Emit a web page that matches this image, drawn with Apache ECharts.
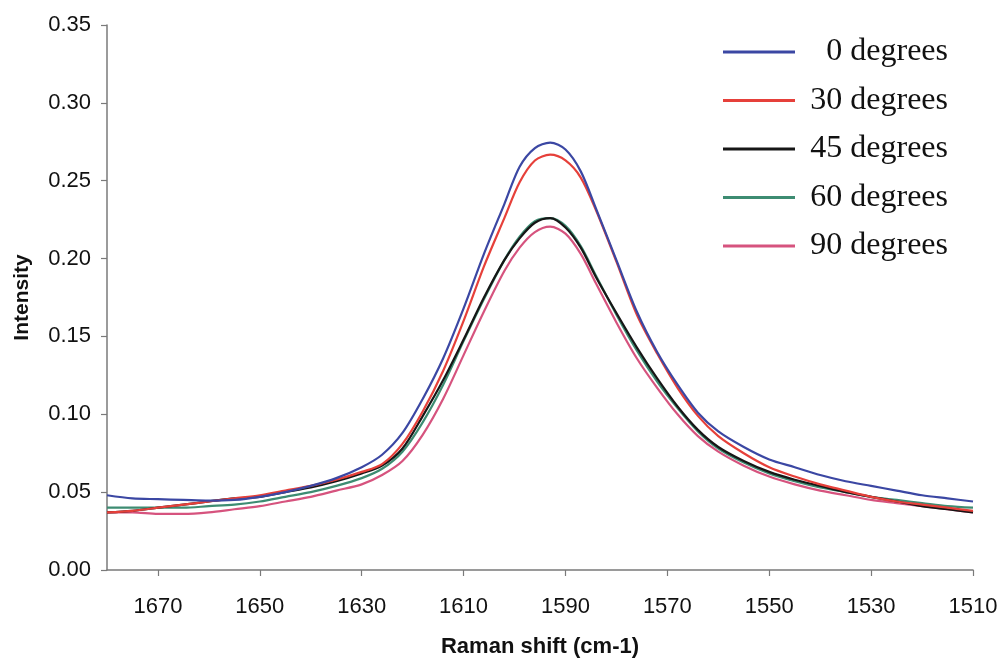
<!DOCTYPE html>
<html>
<head>
<meta charset="utf-8">
<script src="https://cdn.jsdelivr.net/npm/echarts@6/dist/echarts.min.js"></script>
<style>html,body{margin:0;padding:0;background:#fff}#c{width:1004px;height:663px}</style>
</head>
<body>
<div id="c"></div>
<script>
const ramanShift = [1680,1675,1670,1665,1660,1655,1650,1645,1640,1635,1630,1626,1622,1618,1614,1610,1606,1602,1599,1596,1593,1590,1587,1584,1580,1576,1572,1568,1564,1560,1555,1550,1545,1540,1535,1530,1525,1520,1515,1510];
const deg0  = [0.048,0.046,0.0455,0.045,0.0445,0.045,0.047,0.050,0.054,0.059,0.066,0.074,0.088,0.110,0.136,0.168,0.203,0.235,0.259,0.271,0.2745,0.270,0.256,0.232,0.199,0.166,0.140,0.119,0.101,0.089,0.079,0.071,0.066,0.061,0.057,0.054,0.051,0.048,0.046,0.044];
const deg30 = [0.037,0.038,0.040,0.042,0.044,0.046,0.048,0.051,0.054,0.058,0.063,0.068,0.081,0.102,0.128,0.160,0.195,0.226,0.249,0.263,0.2667,0.263,0.252,0.231,0.198,0.164,0.139,0.117,0.099,0.086,0.075,0.066,0.060,0.055,0.051,0.047,0.044,0.042,0.040,0.038];
const deg45 = [0.037,0.038,0.040,0.042,0.044,0.046,0.047,0.050,0.053,0.057,0.062,0.067,0.078,0.099,0.122,0.148,0.175,0.199,0.213,0.223,0.226,0.220,0.207,0.188,0.165,0.143,0.123,0.105,0.090,0.079,0.070,0.063,0.058,0.054,0.050,0.047,0.044,0.041,0.039,0.037];
const deg60 = [0.040,0.040,0.040,0.040,0.041,0.042,0.044,0.047,0.050,0.054,0.059,0.065,0.076,0.095,0.119,0.147,0.174,0.199,0.214,0.224,0.226,0.221,0.208,0.189,0.164,0.141,0.121,0.104,0.089,0.078,0.069,0.062,0.057,0.053,0.050,0.047,0.045,0.043,0.041,0.040];
const deg90 = [0.037,0.037,0.036,0.036,0.037,0.039,0.041,0.044,0.047,0.051,0.055,0.061,0.070,0.087,0.110,0.138,0.166,0.192,0.207,0.217,0.2205,0.216,0.203,0.184,0.159,0.136,0.117,0.100,0.086,0.076,0.067,0.060,0.055,0.051,0.048,0.045,0.043,0.041,0.039,0.037];
const seriesNames = ['0 degrees','30 degrees','45 degrees','60 degrees','90 degrees'];
const xTicks = [1670,1650,1630,1610,1590,1570,1550,1530,1510];
const yTicks = [0,0.05,0.10,0.15,0.20,0.25,0.30,0.35];
const colors = ['#3b47a3','#e6403a','#161616','#3d8c72','#d6537e'];

const allValues = [deg0,deg30,deg45,deg60,deg90];
const chart = echarts.init(document.getElementById('c'));
const axisColor = '#7a7a7a';
chart.setOption({
  animation:false,
  backgroundColor:'#fff',
  grid:{left:107,right:31,top:25,bottom:92},
  legend:{
    left:718, top:31, orient:'vertical', itemWidth:72, itemHeight:20, itemGap:16.5,
    icon:'path://M0,0 L72,0 L72,3 L0,3 Z',
    data:seriesNames,
    formatter: n => '{t|' + n + '}',
    textStyle:{rich:{t:{width:148,align:'right',fontFamily:'Liberation Serif',fontSize:32,color:'#111'}}}
  },
  xAxis:{
    type:'value', min:1510, max:1680, inverse:true,
    name:'Raman shift (cm-1)', nameLocation:'middle', nameGap:66,
    nameTextStyle:{fontFamily:'Liberation Sans',fontWeight:'bold',fontSize:22,color:'#111'},
    axisLine:{show:true,lineStyle:{color:axisColor,width:1.5}},
    axisTick:{show:true,length:6,lineStyle:{color:axisColor,width:1.2},customValues:xTicks},
    axisLabel:{customValues:xTicks,margin:26,fontFamily:'Liberation Sans',fontSize:22,color:'#111',formatter:v=>String(v)},
    splitLine:{show:false}
  },
  yAxis:{
    type:'value', min:0, max:0.35, interval:0.05,
    name:'Intensity', nameLocation:'middle', nameGap:74, nameRotate:90,
    nameTextStyle:{fontFamily:'Liberation Sans',fontWeight:'bold',fontSize:21,color:'#111'},
    axisLine:{show:true,lineStyle:{color:axisColor,width:1.5}},
    axisTick:{show:true,length:6,lineStyle:{color:axisColor,width:1.2}},
    axisLabel:{margin:16,fontFamily:'Liberation Sans',fontSize:22,color:'#111',formatter:v=>v.toFixed(2)},
    splitLine:{show:false}
  },
  series: seriesNames.map((n,i)=>({
    name:n, type:'line', smooth:0.3, showSymbol:false, symbol:'none',
    lineStyle:{color:colors[i],width:2.2}, itemStyle:{color:colors[i]},
    z: 10 - i,
    data: ramanShift.map((x,j)=>[x, allValues[i][j]])
  }))
});
</script>
</body>
</html>
